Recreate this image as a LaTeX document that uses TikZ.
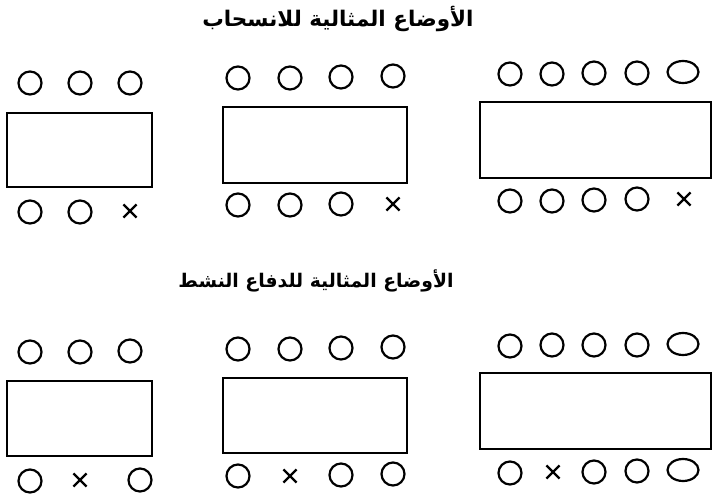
\documentclass[tikz,border=0pt]{standalone}
\usepackage{fontspec}
\usetikzlibrary{shapes.geometric,shapes.misc}
\TeXXeTstate=1
\newfontfamily\arabicfont[Script=Arabic]{DejaVu Sans}
\tikzset{
  tablebox/.style={draw, line width=2.8pt, inner sep=0pt},
  seat/.style={circle, draw, line width=2.2pt, minimum size=23pt, inner sep=0pt},
  oval/.style={ellipse, draw, line width=2.2pt, minimum width=31pt, minimum height=22pt, inner sep=0pt},
  xmark/.style={cross out, draw, line width=2.2pt, minimum size=11pt, inner sep=0pt},
  title/.style={inner sep=0pt}
}
\begin{document}
\begin{tikzpicture}[x=1pt,y=-1pt]
\useasboundingbox (0,0) rectangle (714,494);
% titles
\node[title, font={\arabicfont\bfseries\fontsize{21.5}{26}\selectfont}] (t1) at (338,19) {\beginR الأوضاع المثالية للانسحاب\endR};
\node[title, font={\arabicfont\bfseries\fontsize{18.8}{23}\selectfont}] (t2) at (316,281) {\beginR الأوضاع المثالية للدفاع النشط\endR};
% ---- top row ----
% table 1
\node[tablebox, minimum width=145pt, minimum height=74pt] (r1) at (79.5,150) {};
\node[seat] (a1) at (30,83) {};
\node[seat] (a2) at (80,83) {};
\node[seat] (a3) at (130,83) {};
\node[seat] (b1) at (30,212) {};
\node[seat] (b2) at (80,212) {};
\node[xmark] (b3) at (130,211) {};
% table 2
\node[tablebox, minimum width=184pt, minimum height=76pt] (r2) at (315,145) {};
\node[seat] (c1) at (238,78) {};
\node[seat] (c2) at (290,78) {};
\node[seat] (c3) at (341,77) {};
\node[seat] (c4) at (393,76) {};
\node[seat] (d1) at (238,205) {};
\node[seat] (d2) at (290,205) {};
\node[seat] (d3) at (341,204) {};
\node[xmark] (d4) at (393,204) {};
% table 3
\node[tablebox, minimum width=231pt, minimum height=76pt] (r3) at (595.5,140) {};
\node[seat] (e1) at (510,74) {};
\node[seat] (e2) at (552,74) {};
\node[seat] (e3) at (594,73) {};
\node[seat] (e4) at (637,73) {};
\node[oval] (e5) at (683,72) {};
\node[seat] (f1) at (510,201) {};
\node[seat] (f2) at (552,201) {};
\node[seat] (f3) at (594,200) {};
\node[seat] (f4) at (637,199) {};
\node[xmark] (f5) at (684,199) {};
% ---- bottom row ----
% table 4
\node[tablebox, minimum width=145pt, minimum height=75pt] (r4) at (79.5,418.5) {};
\node[seat] (g1) at (30,352) {};
\node[seat] (g2) at (80,352) {};
\node[seat] (g3) at (130,351) {};
\node[seat] (h1) at (30,481) {};
\node[xmark] (h2) at (80,480) {};
\node[seat] (h3) at (140,480) {};
% table 5
\node[tablebox, minimum width=184pt, minimum height=75pt] (r5) at (315,415.5) {};
\node[seat] (i1) at (238,349) {};
\node[seat] (i2) at (290,349) {};
\node[seat] (i3) at (341,348) {};
\node[seat] (i4) at (393,347) {};
\node[seat] (j1) at (238,476) {};
\node[xmark] (j2) at (290,476) {};
\node[seat] (j3) at (341,475) {};
\node[seat] (j4) at (393,474) {};
% table 6
\node[tablebox, minimum width=231pt, minimum height=76pt] (r6) at (595.5,411) {};
\node[seat] (k1) at (510,346) {};
\node[seat] (k2) at (552,345) {};
\node[seat] (k3) at (594,345) {};
\node[seat] (k4) at (637,345) {};
\node[oval] (k5) at (683,344) {};
\node[seat] (l1) at (510,473) {};
\node[xmark] (l2) at (553,472) {};
\node[seat] (l3) at (594,472) {};
\node[seat] (l4) at (637,471) {};
\node[oval] (l5) at (683,470) {};
\end{tikzpicture}
\end{document}
